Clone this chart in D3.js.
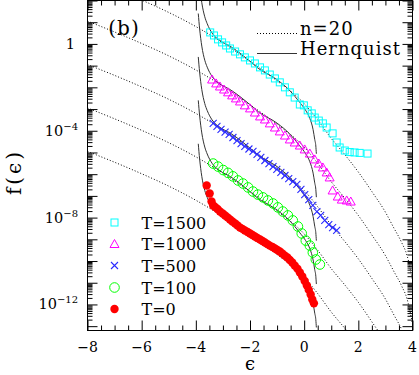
<!DOCTYPE html>
<html>
<head>
<meta charset="utf-8">
<script src="https://cdn.jsdelivr.net/npm/d3@7"></script>
<style>
  body { margin: 0; background: #fff; }
  text { font-family: "DejaVu Serif", serif; fill: #000; }
</style>
</head>
<body>
<div id="chart"></div>
<script>
// model curves as drawn for the T=0 run (eps, log10 f)
var hernEps  = [-3.91, -3.86, -3.78, -3.67, -3.58, -3.4, -3.1, -2.74, -2.0, -1.7, -1.0, -0.53, -0.16, 0.05, 0.21, 0.33, 0.39, 0.43, 0.45];
var hernLogF = [-4.6, -5.3, -6.1, -6.75, -7.07, -7.5, -7.85, -8.1, -8.8, -9.12, -9.65, -10.15, -10.7, -11.05, -11.43, -11.95, -12.4, -12.7, -13.06];
var polyEps  = [-8, -7, -6, -5, -4, -3, -2, -1, 0, 0.5, 1.0, 1.5, 2.0, 2.5, 3.0, 3.3, 3.6, 3.8, 4.0];
var polyLogF = [-4.95, -5.45, -5.98, -6.55, -7.2, -7.95, -8.8, -9.7, -10.75, -11.5, -12.35, -13.1, -13.9, -14.8, -15.75, -16.45, -17.15, -17.75, -18.9];

// each run is offset by this many decades in the figure
var runs = ["T=1500", "T=1000", "T=500", "T=100", "T=0"];
var runShift = [8, 6, 4, 2, 0];

var t1500Eps  = [-3.47,-3.33,-3.18,-3.03,-2.88,-2.74,-2.55,-2.37,-2.19,-2.0,-1.82,-1.63,-1.45,-1.27,-1.08,-0.9,-0.71,-0.53,-0.35,-0.16,-0.01,0.13,0.28,0.39,0.54,0.69,0.83,1.05,1.2,1.31,1.5,1.68,1.86,2.05,2.34];
var t1500LogF = [0.53,0.39,0.21,0.07,-0.07,-0.21,-0.35,-0.48,-0.62,-0.76,-0.9,-1.08,-1.22,-1.41,-1.59,-1.77,-2.0,-2.23,-2.47,-2.79,-2.83,-3.06,-3.2,-3.39,-3.53,-3.66,-3.85,-4.12,-4.54,-4.77,-4.91,-4.98,-5.0,-5.02,-5.05];

var t1000Eps  = [-3.4,-3.25,-3.11,-2.96,-2.81,-2.66,-2.52,-2.37,-2.19,-2.0,-1.82,-1.63,-1.45,-1.27,-1.08,-0.9,-0.71,-0.53,-0.35,-0.16,0.02,0.21,0.39,0.54,0.69,0.83,0.94,1.05,1.24,1.39,1.57,1.72];
var t1000LogF = [-1.64,-1.82,-1.96,-2.10,-2.23,-2.37,-2.51,-2.65,-2.83,-2.97,-3.16,-3.34,-3.48,-3.66,-3.85,-4.03,-4.22,-4.40,-4.54,-4.68,-4.86,-5.05,-5.32,-5.51,-5.69,-5.92,-6.15,-6.75,-7.03,-7.17,-7.21,-7.26];

var t500Eps  = [-3.36,-3.22,-3.07,-2.92,-2.77,-2.63,-2.48,-2.33,-2.19,-2.04,-1.89,-1.74,-1.6,-1.45,-1.3,-1.15,-1.01,-0.86,-0.71,-0.57,-0.42,-0.27,-0.12,0.02,0.17,0.32,0.47,0.61,0.76,0.91,1.05,1.2];
var t500LogF = [-3.66,-3.8,-3.94,-4.06,-4.17,-4.31,-4.45,-4.59,-4.72,-4.84,-4.95,-5.09,-5.23,-5.37,-5.51,-5.65,-5.78,-5.92,-6.06,-6.2,-6.34,-6.47,-6.7,-6.94,-7.17,-7.44,-7.72,-7.9,-8.13,-8.32,-8.46,-8.59];

var t100Eps  = [-3.36,-3.18,-2.99,-2.81,-2.63,-2.44,-2.26,-2.07,-1.89,-1.71,-1.52,-1.34,-1.15,-0.97,-0.79,-0.6,-0.42,-0.23,-0.09,0.06,0.21,0.32,0.43,0.58];
var t100LogF = [-5.51,-5.65,-5.81,-5.94,-6.1,-6.29,-6.43,-6.61,-6.8,-6.94,-7.07,-7.21,-7.35,-7.53,-7.72,-7.9,-8.13,-8.41,-8.73,-9.06,-9.29,-9.61,-9.93,-10.16];

var t0Eps  = [-3.6,-3.49,-3.42,-3.36,-3.29,-3.2,-3.11,-3.01,-2.92,-2.83,-2.74,-2.65,-2.55,-2.46,-2.37,-2.28,-2.19,-2.09,-2.0,-1.91,-1.82,-1.73,-1.63,-1.54,-1.45,-1.36,-1.27,-1.17,-1.08,-0.99,-0.9,-0.81,-0.71,-0.62,-0.53,-0.44,-0.35,-0.25,-0.16,-0.07,0.02,0.1,0.17,0.24,0.3,0.36];
var t0LogF = [-6.52,-6.89,-7.26,-7.44,-7.51,-7.6,-7.72,-7.81,-7.9,-7.99,-8.09,-8.18,-8.27,-8.36,-8.46,-8.52,-8.59,-8.66,-8.73,-8.8,-8.87,-8.94,-9.01,-9.08,-9.15,-9.22,-9.29,-9.35,-9.42,-9.49,-9.56,-9.65,-9.75,-9.84,-9.95,-10.07,-10.21,-10.35,-10.53,-10.71,-10.92,-11.13,-11.33,-11.54,-11.77,-11.95];

var xTicks = [-8, -6, -4, -2, 0, 2, 4];
var yLabelPows = [0, -4, -8, -12];

var W = 419, H = 375;
var pL = 87.5, pR = 412.5, pT = 0.5, pB = 330.5;

var svg = d3.select("#chart").append("svg")
    .attr("width", W)
    .attr("height", H);

var x = d3.scaleLinear().domain([-8, 4]).range([pL, pR]);
var y = d3.scaleLog().domain([Math.pow(10, -13.2), 100]).range([pB, pT]);

svg.append("clipPath").attr("id", "clip")
  .append("rect")
    .attr("x", pL).attr("y", pT)
    .attr("width", pR - pL).attr("height", pB - pT);

function zip(e, l, shift) {
  return e.map(function(v, i) { return {e: v, f: Math.pow(10, l[i] + (shift || 0))}; });
}

var line = d3.line()
    .x(function(d) { return x(d.e); })
    .y(function(d) { return y(d.f); })
    .curve(d3.curveMonotoneX);

var plot = svg.append("g").attr("clip-path", "url(#clip)");

// model curves
runShift.forEach(function(s) {
  plot.append("path")
    .datum(zip(polyEps, polyLogF, s))
    .attr("fill", "none")
    .attr("stroke", "#000")
    .attr("stroke-width", 1)
    .attr("stroke-dasharray", "1,2")
    .attr("d", line);
  plot.append("path")
    .datum(zip(hernEps, hernLogF, s))
    .attr("fill", "none")
    .attr("stroke", "#333")
    .attr("stroke-width", 1)
    .attr("d", line);
});

// markers
var blue = "#2a2aff";
function drawSquares(g, data, cx, cy) {
  g.selectAll(null).data(data).enter().append("rect")
    .attr("x", function(d) { return (cx || x(d.e)) - 3.5; })
    .attr("y", function(d) { return (cy || y(d.f)) - 3.5; })
    .attr("width", 7).attr("height", 7)
    .attr("fill", "none").attr("stroke", "#00ffff").attr("stroke-width", 1);
}
function triPath(px, py) {
  return "M" + px + "," + (py - 4.5) + "L" + (px + 4.5) + "," + (py + 3.5) + "L" + (px - 4.5) + "," + (py + 3.5) + "Z";
}
function crossPath(px, py) {
  return "M" + (px - 3.5) + "," + (py - 3.5) + "L" + (px + 3.5) + "," + (py + 3.5) +
         "M" + (px + 3.5) + "," + (py - 3.5) + "L" + (px - 3.5) + "," + (py + 3.5);
}

drawSquares(plot, zip(t1500Eps, t1500LogF));

plot.selectAll(null).data(zip(t1000Eps, t1000LogF)).enter().append("path")
  .attr("d", function(d) { return triPath(x(d.e), y(d.f)); })
  .attr("fill", "none").attr("stroke", "#ff00ff").attr("stroke-width", 1);

plot.selectAll(null).data(zip(t500Eps, t500LogF)).enter().append("path")
  .attr("d", function(d) { return crossPath(x(d.e), y(d.f)); })
  .attr("fill", "none").attr("stroke", blue).attr("stroke-width", 1.1);

plot.selectAll(null).data(zip(t100Eps, t100LogF)).enter().append("circle")
  .attr("cx", function(d) { return x(d.e); })
  .attr("cy", function(d) { return y(d.f); })
  .attr("r", 4.8)
  .attr("fill", "none").attr("stroke", "#00ff00").attr("stroke-width", 1);

plot.selectAll(null).data(zip(t0Eps, t0LogF)).enter().append("circle")
  .attr("cx", function(d) { return x(d.e); })
  .attr("cy", function(d) { return y(d.f); })
  .attr("r", 4.2)
  .attr("fill", "#ff0000");

// axes: ticks point inwards on all four sides
var xMinor = d3.range(-8, 4.01, 0.5).filter(function(v) { return v % 2 !== 0; });
var decades = d3.range(-13, 3);
var yMinor = [];
decades.forEach(function(p) {
  for (var k = 2; k <= 9; k++) {
    var v = k * Math.pow(10, p);
    if (v > y.domain()[0] && v < 100) yMinor.push(v);
  }
});
var yMajor = decades.map(function(p) { return Math.pow(10, p); })
  .filter(function(v) { return v > y.domain()[0]; });

function axisG(ax, tx, ty) {
  var g = svg.append("g").attr("transform", "translate(" + tx + "," + ty + ")").call(ax);
  g.select(".domain").remove();
  g.selectAll("text").remove();
  g.selectAll("line").attr("stroke", "#000");
  return g;
}
axisG(d3.axisBottom(x).tickValues(xTicks).tickSize(-10), 0, pB);
axisG(d3.axisBottom(x).tickValues(xMinor).tickSize(-5), 0, pB);
axisG(d3.axisTop(x).tickValues(xTicks).tickSize(-10), 0, pT);
axisG(d3.axisTop(x).tickValues(xMinor).tickSize(-5), 0, pT);
axisG(d3.axisLeft(y).tickValues(yMajor).tickSize(-10), pL, 0);
axisG(d3.axisLeft(y).tickValues(yMinor).tickSize(-5), pL, 0);
axisG(d3.axisRight(y).tickValues(yMajor).tickSize(-10), pR, 0);
axisG(d3.axisRight(y).tickValues(yMinor).tickSize(-5), pR, 0);

svg.append("rect")
  .attr("x", pL).attr("y", pT)
  .attr("width", pR - pL).attr("height", pB - pT)
  .attr("fill", "none").attr("stroke", "#000").attr("stroke-width", 1);

// tick labels
svg.selectAll(null).data(xTicks).enter().append("text")
  .attr("x", function(d) { return x(d); })
  .attr("y", 352)
  .attr("text-anchor", "middle")
  .style("font-size", "14px")
  .text(function(d) { return d < 0 ? "\u2212" + Math.abs(d) : d; });

yLabelPows.forEach(function(p) {
  var t = svg.append("text")
    .attr("x", 78)
    .attr("y", y(Math.pow(10, p)) + 5)
    .attr("text-anchor", "end")
    .style("font-size", "14.5px");
  if (p === 0) {
    t.attr("x", 75).text("1");
  } else {
    t.append("tspan").text("10");
    t.append("tspan").attr("dy", -6).style("font-size", "10px")
      .text("\u2212" + Math.abs(p));
  }
});

// axis titles
svg.append("text")
  .attr("transform", "translate(21,172) rotate(-90)")
  .attr("text-anchor", "middle")
  .style("font-size", "20px")
  .style("letter-spacing", "3px")
  .text("f(\u03f5)");

svg.append("text")
  .attr("x", 250).attr("y", 370)
  .attr("text-anchor", "middle")
  .style("font-size", "18px")
  .text("\u03f5");

svg.append("text")
  .attr("x", 124).attr("y", 35)
  .attr("text-anchor", "middle")
  .style("font-size", "20px")
  .style("letter-spacing", "1px")
  .text("(b)");

// model legend (top right)
svg.append("line")
  .attr("x1", 257).attr("x2", 297).attr("y1", 33.5).attr("y2", 33.5)
  .attr("stroke", "#000").attr("stroke-dasharray", "1,2");
svg.append("text").attr("x", 300).attr("y", 35)
  .style("font-size", "18px").style("letter-spacing", "1px").text("n=20");
svg.append("line")
  .attr("x1", 257).attr("x2", 297).attr("y1", 53.5).attr("y2", 53.5)
  .attr("stroke", "#333");
svg.append("text").attr("x", 300).attr("y", 55)
  .style("font-size", "18px").style("letter-spacing", "1px").text("Hernquist");

// run legend (bottom left)
var legY = [222.5, 244, 265.5, 287.5, 309];
var lg = svg.append("g");
drawSquares(lg, [0], 114.5, legY[0]);
lg.append("path").attr("d", triPath(114.5, legY[1]))
  .attr("fill", "none").attr("stroke", "#ff00ff");
lg.append("path").attr("d", crossPath(114.5, legY[2]))
  .attr("fill", "none").attr("stroke", blue).attr("stroke-width", 1.1);
lg.append("circle").attr("cx", 114.5).attr("cy", legY[3]).attr("r", 4.8)
  .attr("fill", "none").attr("stroke", "#00ff00");
lg.append("circle").attr("cx", 114.5).attr("cy", legY[4]).attr("r", 4.2)
  .attr("fill", "#ff0000");
lg.selectAll("text").data(runs).enter().append("text")
  .attr("x", 141.5)
  .attr("y", function(d, i) { return legY[i] + 6; })
  .style("font-size", "16px")
  .text(function(d) { return d; });
</script>
</body>
</html>
